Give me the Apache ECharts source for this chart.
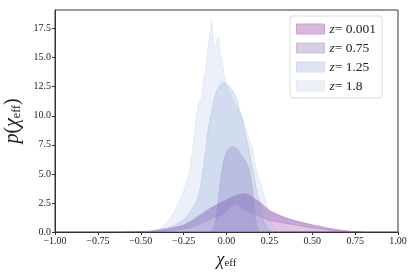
<!DOCTYPE html>
<html><head><meta charset="utf-8">
<script src="https://cdn.jsdelivr.net/npm/echarts@6/dist/echarts.min.js"></script>
<style>html,body{margin:0;padding:0;background:#fff}#c{width:415px;height:277px}</style>
</head><body><div id="c"></div>
<script>
// ---- data ----
var legendNames = ['z=0.001', 'z=0.75', 'z=1.25', 'z=1.8'];
var xTicks = [-1.00, -0.75, -0.50, -0.25, 0.00, 0.25, 0.50, 0.75, 1.00];
var yTicks = [0.0, 2.5, 5.0, 7.5, 10.0, 12.5, 15.0, 17.5];

// broad distribution (z=0.001) upper curve and the band's lower curve
var bandX = [-0.6,-0.55,-0.5,-0.45,-0.4,-0.35,-0.3,-0.25,-0.2,-0.15,-0.1,-0.05,-0.025,0,0.025,0.05,0.075,0.1,0.125,0.15,0.2,0.25,0.3,0.35,0.4,0.45,0.5,0.55,0.6,0.65,0.7,0.75,0.8];
var z0001Upper = [0,0.01,0.04,0.08,0.15,0.25,0.4,0.6,1.0,1.5,2.0,2.4,2.58,2.75,2.95,3.1,3.22,3.3,3.22,3.0,2.5,1.85,1.5,1.2,0.98,0.8,0.63,0.47,0.33,0.2,0.1,0.04,0];
var bandLower = [0,0,0.01,0.02,0.04,0.08,0.15,0.25,0.4,0.7,1.05,1.35,1.48,1.85,2.25,2.5,2.3,1.95,1.75,1.6,1.3,1.0,0.85,0.72,0.6,0.47,0.35,0.25,0.15,0.09,0.05,0.02,0];

// z=0.75 narrow peak
var z075X = [-0.1,-0.075,-0.06,-0.05,-0.04,-0.03,-0.015,0,0.015,0.035,0.055,0.075,0.095,0.115,0.13,0.145,0.155,0.165,0.175,0.19];
var z075Y = [0,0.3,1.2,2.4,3.8,5.0,6.2,6.9,7.2,7.35,7.25,6.9,6.45,6.0,5.5,4.3,3.2,1.8,0.6,0];

// z=1.25
var z125X = [-0.5,-0.45,-0.4,-0.35,-0.3,-0.26,-0.23,-0.2,-0.17,-0.15,-0.134,-0.12,-0.11,-0.1,-0.085,-0.07,-0.055,-0.04,-0.025,-0.01,0.005,0.02,0.035,0.05,0.06,0.075,0.09,0.1,0.115,0.13,0.145,0.158,0.17,0.18,0.19,0.2,0.21,0.22,0.235,0.25,0.27];
var z125Y = [0,0.05,0.2,0.35,0.6,0.95,1.3,2.0,2.8,4.0,5.6,7.2,8.5,9.5,10.5,11.6,12.2,12.6,12.85,12.8,12.7,12.5,12.2,11.8,11.4,10.6,9.8,9.1,8.1,7.1,6.0,5.1,4.0,3.4,2.75,2.0,1.3,0.8,0.4,0.15,0];

// z=1.8
var z18X = [-0.5,-0.45,-0.4,-0.37,-0.34,-0.31,-0.29,-0.27,-0.25,-0.235,-0.22,-0.21,-0.2,-0.19,-0.18,-0.165,-0.145,-0.135,-0.12,-0.105,-0.095,-0.088,-0.082,-0.076,-0.068,-0.06,-0.052,-0.045,-0.038,-0.03,-0.022,-0.012,0,0.015,0.03,0.045,0.06,0.075,0.09,0.1,0.11,0.12,0.13,0.14,0.15,0.16,0.17,0.18,0.19,0.2,0.21,0.22,0.23,0.24,0.25,0.26,0.27,0.28,0.3,0.33];
var z18Y = [0,0.05,0.2,0.5,1.0,1.6,2.2,2.8,3.5,4.2,5.0,5.8,6.8,8.0,9.4,11.0,11.5,13.0,14.0,16.3,17.2,18.2,17.6,16.2,16.0,16.2,16.8,16.6,15.4,15.0,14.3,13.4,12.6,12.0,11.7,11.0,10.7,10.3,9.9,9.5,9.0,8.7,8.1,7.6,7.2,6.4,5.6,5.0,4.5,4.2,3.6,3.1,2.6,2.0,1.4,0.9,0.55,0.3,0.1,0];

// ---- styling ----
var cPink = 'rgba(165,60,165,0.30)';
var cLav  = 'rgba(120,90,180,0.28)';
var cBlue = 'rgba(120,150,205,0.24)';
var cLight= 'rgba(150,180,220,0.18)';
var legendColors = ['#dcb8dc', '#d8cfe7', '#dde4f2', '#ecf1f8'];
var legendBorders = ['#cf9fd0', '#cbbfe0', '#d0daee', '#e2eaf5'];

function pairs(xs, ys) { return xs.map(function (x, i) { return [x, ys[i]]; }); }
function fmtNum(v, d) { var s = Math.abs(v).toFixed(d); return (v < 0 ? '\u2212' : '') + s; }

function area(name, data, color, lineColor, z) {
  return { name: name, type: 'line', data: data, symbol: 'none', smooth: false, z: z,
    lineStyle: { color: lineColor, width: 0.8 }, itemStyle: { color: color },
    areaStyle: { color: color, opacity: 1 }, emphasis: { disabled: true }, silent: true };
}

var chart = echarts.init(document.getElementById('c'), null, { renderer: 'canvas' });
var serif = 'Liberation Serif';
chart.setOption({
  animation: false,
  backgroundColor: '#fff',
  grid: { left: 55, right: 17, top: 10, bottom: 45, show: true, borderColor: '#333', borderWidth: 1,
    backgroundColor: 'transparent', containLabel: false, outerBoundsMode: 'none' },
  legend: {
    orient: 'vertical', left: 290, top: 16, icon: 'rect', itemWidth: 28, itemHeight: 10, itemGap: 5,
    padding: [6, 6, 5, 6], backgroundColor: 'rgba(255,255,255,0.8)', borderColor: '#ddd', borderWidth: 1, borderRadius: 3,
    textStyle: { fontFamily: serif, fontSize: 13.5, color: '#222', lineHeight: 13,
      rich: { i: { fontFamily: serif, fontStyle: 'italic', fontSize: 13.5, color: '#222' }, n: { fontFamily: serif, fontSize: 13.5, color: '#222' } } },
    formatter: function (n) { return '{i|z}{n|= ' + n.slice(2) + '}'; },
    data: legendNames.map(function (n, i) { return { name: n, itemStyle: { color: legendColors[i], borderColor: legendBorders[i], borderWidth: 1 } }; })
  },
  xAxis: {
    type: 'value', min: -1, max: 1, interval: 0.25,
    axisLine: { show: true, onZero: false, lineStyle: { color: '#333', width: 1 } },
    axisTick: { show: true, length: 3, lineStyle: { color: '#333' } },
    splitLine: { show: false },
    axisLabel: { fontFamily: serif, fontSize: 10, color: '#222', margin: 4, formatter: function (v) { return fmtNum(v, 2); } },
    name: '{a|\u03c7}{b|eff}', nameLocation: 'middle', nameGap: 13,
    nameTextStyle: { rich: { a: { fontFamily: serif, fontStyle: 'italic', fontSize: 18, color: '#222' }, b: { fontFamily: serif, fontSize: 11, color: '#222', padding: [7, 0, 0, 0] } } }
  },
  yAxis: {
    type: 'value', min: 0, max: 19.1, interval: 2.5,
    axisLine: { show: true, onZero: false, lineStyle: { color: '#333', width: 1 } },
    axisTick: { show: true, length: 3, lineStyle: { color: '#333' } },
    splitLine: { show: false },
    axisLabel: { fontFamily: serif, fontSize: 10, color: '#222', margin: 4, showMaxLabel: false,
      formatter: function (v) { return yTicks.indexOf(v) >= 0 ? fmtNum(v, 1) : ''; } },
    name: '{a|p}{c|(}{a|\u03c7}{b|eff}{c|)}', nameLocation: 'middle', nameGap: 19, nameRotate: 90,
    nameTextStyle: { rich: { a: { fontFamily: serif, fontStyle: 'italic', fontSize: 20, color: '#222' }, c: { fontFamily: serif, fontSize: 20, color: '#222' }, b: { fontFamily: serif, fontSize: 12, color: '#222', padding: [8, 0, 0, 0] } } }
  },
  series: [
    area('z=0.001', pairs(bandX, z0001Upper), cPink, 'rgba(165,60,165,0.35)', 1),
    { name: 'band', type: 'custom', data: [0], z: 2, silent: true, clip: true,
      renderItem: function (params, api) {
        var pts = [];
        for (var i = 0; i < bandX.length; i++) pts.push(api.coord([bandX[i], z0001Upper[i]]));
        for (var j = bandX.length - 1; j >= 0; j--) pts.push(api.coord([bandX[j], bandLower[j]]));
        var low = [];
        for (var k = 0; k < bandX.length; k++) low.push(api.coord([bandX[k], bandLower[k]]));
        return { type: 'group', children: [
          { type: 'polygon', shape: { points: pts }, style: { fill: cLav, stroke: null } },
          { type: 'polyline', shape: { points: low }, style: { fill: null, stroke: 'rgba(120,90,180,0.30)', lineWidth: 0.8 } }
        ] };
      } },
    area('z=0.75', pairs(z075X, z075Y), cLav, 'rgba(120,90,180,0.30)', 3),
    area('z=1.25', pairs(z125X, z125Y), cBlue, 'rgba(120,150,205,0.30)', 4),
    area('z=1.8', pairs(z18X, z18Y), cLight, 'rgba(150,180,220,0.25)', 5)
  ]
});
</script></body></html>
